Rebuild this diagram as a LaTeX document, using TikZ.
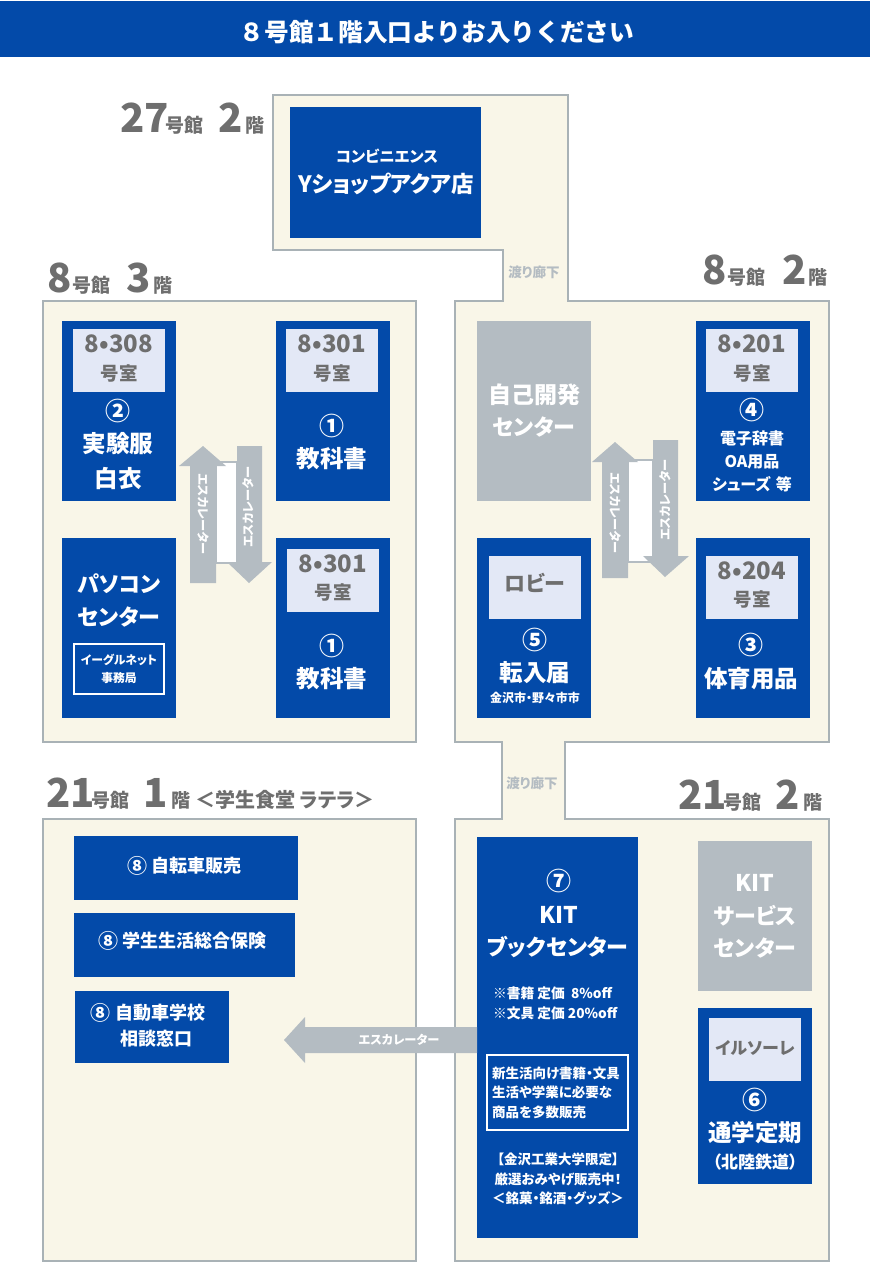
\documentclass[tikz,border=0pt]{standalone}
\usepackage{fontspec}
\setmainfont{Noto Sans CJK JP}[RawFeature=+palt]
\newfontfamily\nopalt{Noto Sans CJK JP}
\definecolor{kitblue}{HTML}{034AA9}
\definecolor{hallgray}{HTML}{B4BCC2}
\definecolor{hallcream}{HTML}{F9F6E8}
\definecolor{platecol}{HTML}{E3E8F6}
\definecolor{inkgray}{HTML}{6E6E6E}
\definecolor{edgegray}{HTML}{A9B2B6}
\tikzset{
  hall/.style={draw=edgegray, fill=hallcream, line width=2.5pt, line join=miter},
  room/.style 2 args={fill=kitblue, inner sep=0pt, minimum width=#1, minimum height=#2},
  shop/.style 2 args={fill=hallgray, inner sep=0pt, minimum width=#1, minimum height=#2},
  plate/.style={fill=platecol, inner sep=0pt, minimum width=92, minimum height=63},
  frame/.style 2 args={draw=white, line width=2.2pt, inner sep=0pt, minimum width=#1, minimum height=#2},
  wt/.style 2 args={text=white, font=\bfseries\fontsize{#1}{#2}\selectfont, align=center, inner sep=0pt},
  gt/.style={text=inkgray, font=\bfseries\fontsize{#1}{#1}\selectfont, inner sep=0pt},
  num/.style={text=white, font=\bfseries\fontsize{#1}{#1}\selectfont, inner sep=0pt},
  esc/.style={fill=hallgray},
  esctxt/.style={text=white, font=\bfseries\fontsize{12.2}{12}\selectfont, inner sep=0pt},
  corr/.style={text=hallgray, font=\bfseries\fontsize{13.5}{13}\selectfont, inner sep=0pt},
  floor/.style={text=inkgray, anchor=base west, inner sep=0pt},
}
\newcommand{\bg}[1]{{\bfseries\fontsize{40}{40}\selectfont #1}}
\newcommand{\sm}[1]{{\bfseries\fontsize{19}{19}\selectfont #1}}
\begin{document}
\begin{tikzpicture}[x=1pt, y=-1pt]
  \useasboundingbox (0,0) rectangle (870,1270);
  \fill[white] (0,0) rectangle (870,1270);
  \fill[kitblue] (0,1) rectangle (870,57);
  \node[text=white, font=\nopalt\bfseries\fontsize{24.7}{25}\selectfont, inner sep=0pt] (title) at (437,32) {８号館１階入口よりお入りください};

  % buildings
  \draw[hall] (273,95) -- (568,95) -- (568,301) -- (829,301) -- (829,742) -- (565,742) -- (565,819)
    -- (829,819) -- (829,1261) -- (455,1261) -- (455,819) -- (502,819) -- (502,742) -- (455,742)
    -- (455,301) -- (503,301) -- (503,250) -- (273,250) -- cycle;
  \draw[hall] (43,301) rectangle (416,742);
  \draw[hall] (43,819) rectangle (416,1261);

  \node[floor] (f27) at (120,132) {\bg{27}\hspace{-3pt}\sm{号館}\hspace{15pt}\bg{2}\hspace{2pt}\sm{階}};
  \node[floor] (f83) at (47,292) {\bg{8}\hspace{1pt}\sm{号館}\hspace{16pt}\bg{3}\hspace{3pt}\sm{階}};
  \node[floor] (f82) at (702,284) {\bg{8}\hspace{1pt}\sm{号館}\hspace{17pt}\bg{2}\hspace{2pt}\sm{階}};
  \node[floor] (f211) at (46,807) {\bg{21}\hspace{-3pt}\sm{号館}\hspace{14pt}\bg{1}\hspace{3pt}\sm{階}\hspace{5pt}\sm{\fontsize{20}{20}\selectfont ＜学生食堂 ラテラ＞}};
  \node[floor] (f212) at (678,809) {\bg{21}\hspace{-3pt}\sm{号館}\hspace{14pt}\bg{2}\hspace{3pt}\sm{階}};
  \node[corr] (w1) at (534,272) {渡り廊下};
  \node[corr] (w2) at (532,783) {渡り廊下};

  % 27
  \node[room={191}{131}] (conv) at (385.5,172.5) {};
  \node[wt={15.5}{16}] (conv1) at (387,156) {コンビニエンス};
  \node[wt={22.5}{23}] (conv2) at (386,184) {Yショップアクア店};

  % 8-3
  \node[room={114}{180}] (r308) at (119,411) {};
  \node[plate] (p308) at (119,360.5) {};
  \node[gt=24] (a308) at (119,344) {8•308};
  \node[gt=18.5] (b308) at (119,373) {号室};
  \node[num=25] (n308) at (118,411) {②};
  \node[wt={23.5}{24}] (c308) at (118,444) {実験服};
  \node[wt={23.5}{24}] (d308) at (118,478) {白衣};

  \node[room={114}{180}] (r301) at (332.5,411) {};
  \node[plate] (p301) at (332,360) {};
  \node[gt=24] (a301) at (332,344) {8•301};
  \node[gt=18.5] (b301) at (332,373) {号室};
  \node[num=25] (n301) at (332,426) {①};
  \node[wt={23.5}{24}] (c301) at (332,459) {教科書};

  \node[room={114}{180}] (rpc) at (119,628) {};
  \node[wt={22}{22}] (apc) at (119,584) {パソコン};
  \node[wt={22}{22}] (bpc) at (119,617) {センター};
  \node[frame={90}{50}] (fpc) at (119,669) {};
  \node[wt={11.8}{18}] (cpc) at (119,669) {イーグルネット\\事務局};

  \node[room={114}{180}] (r301b) at (332.5,628) {};
  \node[plate] (p301b) at (333,580.5) {};
  \node[gt=24] (a301b) at (333,564) {8•301};
  \node[gt=18.5] (b301b) at (333,592.5) {号室};
  \node[num=25] (n301b) at (332,646) {①};
  \node[wt={23.5}{24}] (c301b) at (332,679) {教科書};

  \fill[white, draw=hallgray, line width=1.5pt] (216,462) rectangle (237,563);
  \fill[esc] (190,583) -- (190,466) -- (179,466) -- (203,446) -- (226,466) -- (216,466) -- (216,583) -- cycle;
  \fill[esc] (237,446) -- (262,446) -- (262,562) -- (272,562) -- (249,583) -- (227,562) -- (237,562) -- cycle;
  \node[esctxt, rotate=-90] (e1) at (203,514) {エスカレーター};
  \node[esctxt, rotate=90] (e2) at (248,507) {エスカレーター};

  % 8-2
  \node[shop={114}{180}] (self) at (534,411) {};
  \node[wt={23}{24}] (self1) at (534,395) {自己開発};
  \node[wt={22}{22}] (self2) at (534,427) {センター};

  \node[room={114}{180}] (r201) at (752.5,411) {};
  \node[plate] (p201) at (752,360.5) {};
  \node[gt=24] (a201) at (752,344) {8•201};
  \node[gt=18.5] (b201) at (752,373) {号室};
  \node[num=25] (n201) at (752,410) {④};
  \node[wt={16}{23}] (c201) at (752,461) {電子辞書\\OA用品\\シューズ\hspace{5pt}等};

  \node[room={114}{180}] (lob) at (534,628) {};
  \node[plate] (plob) at (535,587) {};
  \node[gt=21] (alob) at (535,583) {ロビー};
  \node[num=25] (nlob) at (535,640) {⑤};
  \node[wt={23.5}{24}] (clob) at (535,673) {転入届};
  \node[wt={12}{12}] (dlob) at (535,698) {金沢市・野々市市};

  \node[room={114}{180}] (r204) at (752.5,628) {};
  \node[plate] (p204) at (752,587) {};
  \node[gt=24] (a204) at (752,571) {8•204};
  \node[gt=18.5] (b204) at (752,599) {号室};
  \node[num=25] (n204) at (751,645) {③};
  \node[wt={23.5}{24}] (c204) at (751,679) {体育用品};

  \fill[white, draw=hallgray, line width=1.5pt] (628,460) rectangle (653,562);
  \fill[esc] (602,578) -- (602,462) -- (592,462) -- (615,442) -- (638,462) -- (628,462) -- (628,578) -- cycle;
  \fill[esc] (653,440) -- (678,440) -- (678,556) -- (689,556) -- (665,577) -- (643,556) -- (653,556) -- cycle;
  \node[esctxt, rotate=-90] (e3) at (615,513) {エスカレーター};
  \node[esctxt, rotate=90] (e4) at (665,500) {エスカレーター};

  % 21-2
  \node[room={161}{401}] (book) at (557.5,1037.5) {};
  \node[num=25] (nbook) at (559,881) {⑦};
  \node[wt={23}{24}] (abook) at (559,915) {KIT};
  \node[wt={22}{22}] (bbook) at (558,947) {ブックセンター};
  \node[wt={13.7}{19.5}, align=left, anchor=west] (cbook) at (493,1003.5) {※書籍 定価 \ 8\%off\\※文具 定価 20\%off};
  \node[frame={141}{75}] (fbook) at (557.5,1092.5) {};
  \node[wt={13.5}{19.5}, align=left, anchor=west] (dbook) at (492,1092.5) {新生活向け書籍・文具\\生活や学業に必要な\\商品を多数販売};
  \node[wt={13.5}{19.5}] (ebook) at (558,1179) {【金沢工業大学限定】\\厳選おみやげ販売中！\\＜銘菓・銘酒・グッズ＞};

  \node[shop={114}{150}] (svc) at (755,916) {};
  \node[wt={23}{24}] (svc1) at (755,883) {KIT};
  \node[wt={22}{22}] (svc2) at (755,916) {サービス};
  \node[wt={22}{22}] (svc3) at (755,948) {センター};

  \node[room={114}{176}] (iru) at (755,1096) {};
  \node[plate] (piru) at (755,1049) {};
  \node[gt=17] (airu) at (755,1048) {イルソーレ};
  \node[num=25] (niru) at (755,1100) {⑥};
  \node[wt={23.5}{24}] (ciru) at (755,1133) {通学定期};
  \node[wt={17}{17}] (diru) at (755,1162) {（北陸鉄道）};

  % 21-1
  \node[room={224}{64}] (bike) at (186,868) {};
  \node[num=20] (nbike) at (137,866) {⑧};
  \node[wt={18}{18}] (tbike) at (196.5,866) {自転車販売};
  \node[room={221}{64}] (ins) at (184.5,945) {};
  \node[num=20] (nins) at (108,941) {⑧};
  \node[wt={18}{18}] (tins) at (194.5,941) {学生生活総合保険};
  \node[room={154}{72}] (drv) at (152,1027) {};
  \node[num=20] (ndrv) at (100,1013) {⑧};
  \node[wt={18}{18}] (tdrv) at (160,1013) {自動車学校};
  \node[wt={18}{18}] (udrv) at (156.5,1039) {相談窓口};

  \fill[esc] (477,1027) -- (305,1027) -- (305,1017) -- (284,1040) -- (305,1063) -- (305,1053) -- (477,1053) -- cycle;
  \node[esctxt] (e5) at (399,1040) {エスカレーター};
\end{tikzpicture}
\end{document}
